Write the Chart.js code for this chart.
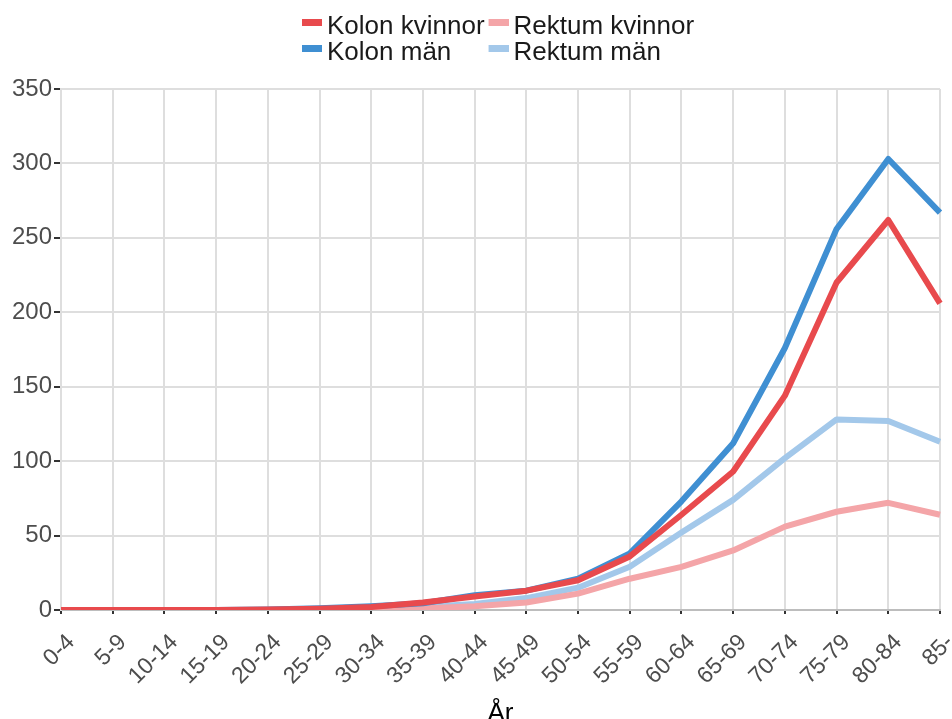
<!DOCTYPE html>
<html><head><meta charset="utf-8">
<script src="https://cdn.jsdelivr.net/npm/chart.js@4"></script>
<style>html,body{margin:0;padding:0;background:#fff;}#wrap{width:952px;height:719px;position:relative;}</style>
</head><body><div id="wrap"><canvas id="c" width="952" height="719"></canvas></div>
<script>
const categories = ['0-4','5-9','10-14','15-19','20-24','25-29','30-34','35-39','40-44','45-49','50-54','55-59','60-64','65-69','70-74','75-79','80-84','85-'];
const kolonKvinnor  = [0, 0, 0, 0, 0.3, 0.8, 2, 5, 9, 13, 20, 36, 64, 93, 144, 220, 262, 206];
const kolonMan      = [0, 0, 0, 0, 0.3, 1.2, 2.5, 4.5, 10, 13, 21, 38, 73, 112, 176, 256, 303, 267];
const rektumKvinnor = [0, 0, 0, 0, 0, 0.2, 0.5, 1, 2.5, 5, 11, 21, 29, 40, 56, 66, 72, 64];
const rektumMan     = [0, 0, 0, 0, 0, 0.3, 0.8, 2, 4, 8, 15, 29, 52, 74, 102, 128, 127, 113];
const seriesNames = ['Kolon kvinnor', 'Kolon män', 'Rektum kvinnor', 'Rektum män'];
const seriesColors = ['#e84a4d', '#3f8fd2', '#f4a5a8', '#a3c8ea'];
const yTickValues = [0, 50, 100, 150, 200, 250, 300, 350];
const xTitle = 'År';

const FONT = "'Liberation Sans', Arial, sans-serif";

function keyImage(color) {
  const c = document.createElement('canvas');
  c.width = 32; c.height = 16;
  const g = c.getContext('2d');
  g.fillStyle = color;
  g.fillRect(12, 0, 20, 7);
  return c;
}
const keyImages = seriesColors.map(keyImage);

const seriesValues = [kolonKvinnor, kolonMan, rektumKvinnor, rektumMan];

const legendPlacer = {
  id: 'legendPlacer',
  afterInit(chart) {
    const lg = chart.legend;
    const orig = lg.update.bind(lg);
    lg.update = function (w, h, m) {
      orig(w, 60, m);
      this.left = 298; this.top = 14;
      this.right = this.left + this.width;
      this.bottom = this.top + this.height;
    };
  }
};

new Chart(document.getElementById('c'), {
  type: 'line',
  data: {
    labels: categories,
    datasets: seriesNames.map((n, i) => ({
      label: n,
      data: seriesValues[i],
      borderColor: seriesColors[i],
      backgroundColor: seriesColors[i],
      borderWidth: 6,
      pointRadius: 0,
      tension: 0,
      borderJoinStyle: 'round',
      fill: false
    }))
  },
  options: {
    responsive: false,
    animation: false,
    devicePixelRatio: 1,
    layout: { padding: { top: 89, right: 12, left: 0, bottom: 0 } },
    plugins: {
      tooltip: { enabled: false },
      legend: {
        position: 'chartArea',
        align: 'start',
        labels: {
          usePointStyle: true,
          pointStyleWidth: 16,
          padding: 0,
          color: '#1a1a1a',
          font: { family: FONT, size: 26 },
          generateLabels(chart) {
            return chart.data.datasets.map((ds, i) => ({
              text: ds.label,
              pointStyle: keyImages[i],
              fillStyle: ds.borderColor,
              strokeStyle: ds.borderColor,
              lineWidth: 0,
              hidden: false,
              datasetIndex: i,
              fontColor: '#1a1a1a'
            }));
          }
        }
      }
    },
    scales: {
      x: {
        grid: { color: '#dedede', lineWidth: 2, tickLength: 4, tickColor: '#333', tickWidth: 2 },
        border: { color: '#bdbdbd', width: 2 },
        ticks: {
          autoSkip: false, maxRotation: 45, minRotation: 45, padding: 15, labelOffset: 10,
          color: '#4d4d4d', font: { family: FONT, size: 23 }
        },
        title: { display: true, text: xTitle, color: '#000', font: { family: FONT, size: 26 }, padding: { top: 0, bottom: -10 } },
        afterFit(s) { s.height = 109; s.paddingRight = 0; s.paddingLeft = 0; }
      },
      y: {
        min: 0, max: 350,
        afterBuildTicks(s) { s.ticks = yTickValues.map(v => ({ value: v })); },
        grid: { color: '#dedede', lineWidth: 2, tickLength: 7, tickColor: '#333', tickWidth: 2 },
        border: { color: '#dedede', width: 2 },
        ticks: { padding: 2, color: '#4d4d4d', font: { family: FONT, size: 24 } },
        afterFit(s) { s.width = 61; }
      }
    }
  },
  plugins: [legendPlacer]
});
</script></body></html>
